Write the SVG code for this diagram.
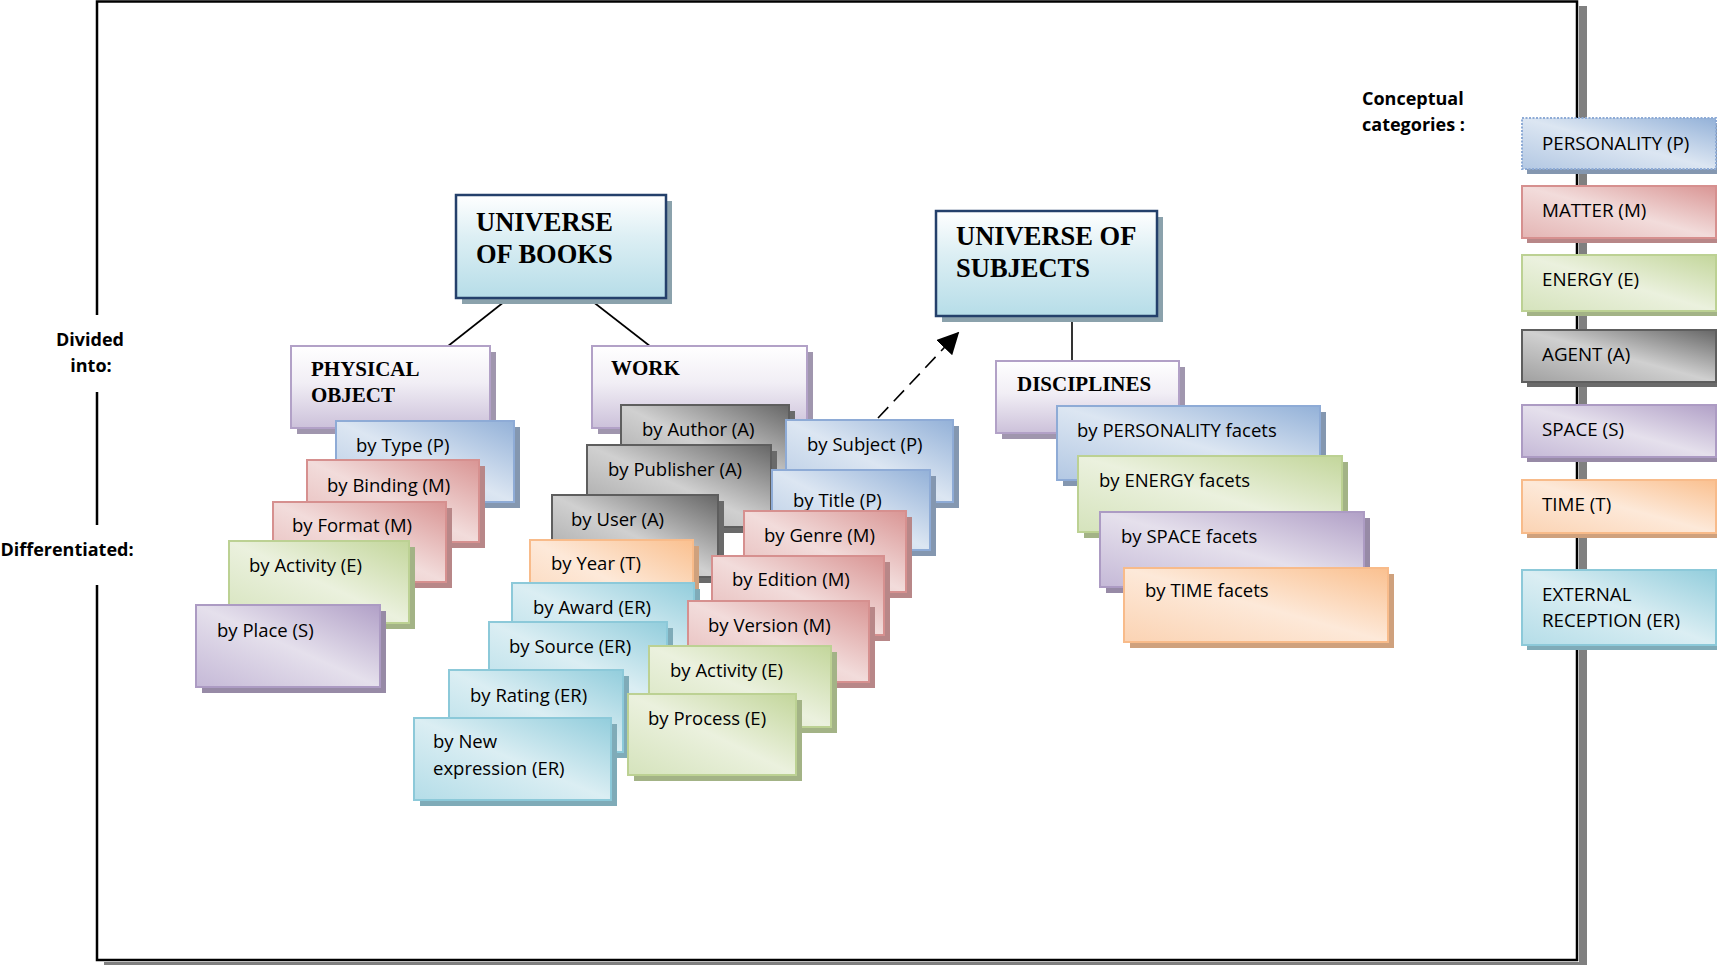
<svg xmlns="http://www.w3.org/2000/svg" width="1717" height="965" viewBox="0 0 1717 965">
<defs>
<linearGradient id="gP" x1="1" y1="0" x2="0" y2="1"><stop offset="0" stop-color="#93B1D8"/><stop offset="0.5" stop-color="#DCE6F2"/><stop offset="1" stop-color="#B3C8E3"/></linearGradient>
<linearGradient id="gM" x1="1" y1="0" x2="0" y2="1"><stop offset="0" stop-color="#D99594"/><stop offset="0.5" stop-color="#F2DCDB"/><stop offset="1" stop-color="#E4B5B4"/></linearGradient>
<linearGradient id="gE" x1="1" y1="0" x2="0" y2="1"><stop offset="0" stop-color="#C3D69B"/><stop offset="0.5" stop-color="#EBF1DE"/><stop offset="1" stop-color="#D5E3BC"/></linearGradient>
<linearGradient id="gA" x1="1" y1="0" x2="0" y2="1"><stop offset="0" stop-color="#666666"/><stop offset="0.5" stop-color="#D0D0D0"/><stop offset="1" stop-color="#A0A0A0"/></linearGradient>
<linearGradient id="gS" x1="1" y1="0" x2="0" y2="1"><stop offset="0" stop-color="#B1A0C7"/><stop offset="0.5" stop-color="#E5E0EC"/><stop offset="1" stop-color="#C5B9D7"/></linearGradient>
<linearGradient id="gT" x1="1" y1="0" x2="0" y2="1"><stop offset="0" stop-color="#FAC08F"/><stop offset="0.5" stop-color="#FDE9D9"/><stop offset="1" stop-color="#FBD3B3"/></linearGradient>
<linearGradient id="gR" x1="1" y1="0" x2="0" y2="1"><stop offset="0" stop-color="#92CDDC"/><stop offset="0.5" stop-color="#DBEEF3"/><stop offset="1" stop-color="#B4DDE8"/></linearGradient>
<linearGradient id="gH" x1="0" y1="0" x2="0" y2="1"><stop offset="0" stop-color="#FFFFFF"/><stop offset="0.45" stop-color="#F1EEF5"/><stop offset="1" stop-color="#CCC1DA"/></linearGradient>
<linearGradient id="gU" x1="0" y1="0" x2="0" y2="1"><stop offset="0" stop-color="#FFFFFF"/><stop offset="0.4" stop-color="#DDEFF4"/><stop offset="1" stop-color="#B6DDE8"/></linearGradient>
<marker id="arrow" viewBox="0 0 12 12" refX="11" refY="6" markerWidth="22" markerHeight="22" markerUnits="userSpaceOnUse" orient="auto"><path d="M0,0 L12,6 L0,12 z" fill="#000"/></marker>
</defs>
<style>
text{font-family:"Open Sans","Noto Sans","Liberation Sans",sans-serif;font-size:18.5px;fill:#000}
.hd{font-family:"Liberation Serif","Times New Roman",serif;font-weight:bold;font-size:21px}
.uh{font-family:"Liberation Serif","Times New Roman",serif;font-weight:bold;font-size:26.5px}
.lb{font-weight:bold;font-size:18px}
.cc{font-size:18.8px}
rect{stroke-width:2}
.P{fill:url(#gP);stroke:#8EABD6}
.M{fill:url(#gM);stroke:#D6908F}
.E{fill:url(#gE);stroke:#BCD193}
.A{fill:url(#gA);stroke:#5E5E5E}
.S{fill:url(#gS);stroke:#AC9BC3}
.T{fill:url(#gT);stroke:#F8BB8A}
.R{fill:url(#gR);stroke:#8CC9D9}
.H{fill:url(#gH);stroke:#B2A1C7}
.U{fill:url(#gU);stroke:#24406B;stroke-width:2.5}
.sP{fill:#8497B0;stroke:none}
.sM{fill:#B88788;stroke:none}
.sE{fill:#A3B386;stroke:none}
.sA{fill:#6A6A6A;stroke:none}
.sS{fill:#978AA6;stroke:none}
.sT{fill:#CFA17D;stroke:none}
.sR{fill:#7FABB8;stroke:none}
.sH{fill:#A096AE;stroke:none}
.sU{fill:#8BA2AC;stroke:none}
.con line{stroke:#000;stroke-width:1.6}
</style>
<rect width="1717" height="965" fill="#fff" style="stroke:none"/>

<g id="frame">
<rect x="1579" y="6" width="8" height="962" fill="#808080" style="stroke:none"/>
<rect x="104" y="962" width="1483" height="6" fill="#808080" style="stroke:none"/>
<path d="M97,315 V1.5 H1577 V960 H97 V585 M97,525 V392" fill="none" stroke="#000" stroke-width="2.5"/>
</g>

<g id="labels">
<text class="lb" x="90" y="346" text-anchor="middle">Divided</text>
<text class="lb" x="91" y="372" text-anchor="middle">into:</text>
<text class="lb" x="67" y="556" text-anchor="middle">Differentiated:</text>
<text class="lb" x="1362" y="105">Conceptual</text>
<text class="lb" x="1362" y="131">categories :</text>
</g>

<g id="connectors" class="con">
<line x1="509" y1="298" x2="443" y2="350"/>
<line x1="592" y1="301" x2="655" y2="350"/>
<line x1="1072" y1="316" x2="1072" y2="363"/>
<line x1="878" y1="418" x2="958" y2="333" stroke-width="3.2" stroke-dasharray="15 8" marker-end="url(#arrow)"/>
</g>

<g id="universe-books"><rect class="sU" x="462" y="201" width="210" height="103"/><rect class="U" x="456" y="195" width="210" height="103"/><text class="uh" x="476" y="231">UNIVERSE</text><text class="uh" x="476" y="263">OF BOOKS</text></g>
<g id="universe-subjects"><rect class="sU" x="942" y="217" width="221" height="105"/><rect class="U" x="936" y="211" width="221" height="105"/><text class="uh" x="956" y="245">UNIVERSE OF</text><text class="uh" x="956" y="277">SUBJECTS</text></g>

<g id="physical-object"><rect class="sH" x="297" y="352" width="199" height="82"/><rect class="H" x="291" y="346" width="199" height="82"/><text class="hd" x="311" y="376">PHYSICAL</text><text class="hd" x="311" y="402">OBJECT</text></g>
<g id="po-type"><rect class="sP" x="342" y="427" width="178" height="81"/><rect class="P" x="336" y="421" width="178" height="81"/><text x="356" y="452">by Type (P)</text></g>
<g id="po-binding"><rect class="sM" x="313" y="466" width="172" height="82"/><rect class="M" x="307" y="460" width="172" height="82"/><text x="327" y="492">by Binding (M)</text></g>
<g id="po-format"><rect class="sM" x="279" y="508" width="173" height="80"/><rect class="M" x="273" y="502" width="173" height="80"/><text x="292" y="532">by Format (M)</text></g>
<g id="po-activity"><rect class="sE" x="235" y="547" width="180" height="82"/><rect class="E" x="229" y="541" width="180" height="82"/><text x="249" y="572">by Activity (E)</text></g>
<g id="po-place"><rect class="sS" x="202" y="611" width="184" height="82"/><rect class="S" x="196" y="605" width="184" height="82"/><text x="217" y="637">by Place (S)</text></g>

<g id="work"><rect class="sH" x="598" y="352" width="215" height="82"/><rect class="H" x="592" y="346" width="215" height="82"/><text class="hd" x="611" y="375">WORK</text></g>
<g id="w-author"><rect class="sA" x="627" y="411" width="168" height="82"/><rect class="A" x="621" y="405" width="168" height="82"/><text x="642" y="436">by Author (A)</text></g>
<g id="w-publisher"><rect class="sA" x="593" y="451" width="184" height="82"/><rect class="A" x="587" y="445" width="184" height="82"/><text x="608" y="476">by Publisher (A)</text></g>
<g id="w-user"><rect class="sA" x="558" y="501" width="166" height="82"/><rect class="A" x="552" y="495" width="166" height="82"/><text x="571" y="526">by User (A)</text></g>
<g id="w-year"><rect class="sT" x="536" y="546" width="163" height="82"/><rect class="T" x="530" y="540" width="163" height="82"/><text x="551" y="570">by Year (T)</text></g>
<g id="w-award"><rect class="sR" x="518" y="589" width="182" height="82"/><rect class="R" x="512" y="583" width="182" height="82"/><text x="533" y="614">by Award (ER)</text></g>
<g id="w-source"><rect class="sR" x="495" y="628" width="178" height="82"/><rect class="R" x="489" y="622" width="178" height="82"/><text x="509" y="653">by Source (ER)</text></g>
<g id="w-rating"><rect class="sR" x="455" y="676" width="174" height="82"/><rect class="R" x="449" y="670" width="174" height="82"/><text x="470" y="702">by Rating (ER)</text></g>
<g id="w-newexpr"><rect class="sR" x="420" y="724" width="197" height="82"/><rect class="R" x="414" y="718" width="197" height="82"/><text x="433" y="748">by New</text><text x="433" y="775">expression (ER)</text></g>
<g id="w-subject"><rect class="sP" x="792" y="426" width="167" height="82"/><rect class="P" x="786" y="420" width="167" height="82"/><text x="807" y="451">by Subject (P)</text></g>
<g id="w-title"><rect class="sP" x="778" y="476" width="158" height="80"/><rect class="P" x="772" y="470" width="158" height="80"/><text x="793" y="507">by Title (P)</text></g>
<g id="w-genre"><rect class="sM" x="750" y="517" width="162" height="81"/><rect class="M" x="744" y="511" width="162" height="81"/><text x="764" y="542">by Genre (M)</text></g>
<g id="w-edition"><rect class="sM" x="718" y="562" width="172" height="79"/><rect class="M" x="712" y="556" width="172" height="79"/><text x="732" y="586">by Edition (M)</text></g>
<g id="w-version"><rect class="sM" x="694" y="607" width="181" height="81"/><rect class="M" x="688" y="601" width="181" height="81"/><text x="708" y="632">by Version (M)</text></g>
<g id="w-activity"><rect class="sE" x="655" y="652" width="182" height="81"/><rect class="E" x="649" y="646" width="182" height="81"/><text x="670" y="677">by Activity (E)</text></g>
<g id="w-process"><rect class="sE" x="634" y="700" width="168" height="81"/><rect class="E" x="628" y="694" width="168" height="81"/><text x="648" y="725">by Process (E)</text></g>

<g id="disciplines"><rect class="sH" x="1002" y="367" width="183" height="72"/><rect class="H" x="996" y="361" width="183" height="72"/><text class="hd" x="1017" y="391">DISCIPLINES</text></g>
<g id="d-personality"><rect class="sP" x="1063" y="412" width="263" height="74"/><rect class="P" x="1057" y="406" width="263" height="74"/><text x="1077" y="437">by PERSONALITY facets</text></g>
<g id="d-energy"><rect class="sE" x="1084" y="462" width="264" height="76"/><rect class="E" x="1078" y="456" width="264" height="76"/><text x="1099" y="487">by ENERGY facets</text></g>
<g id="d-space"><rect class="sS" x="1106" y="518" width="264" height="75"/><rect class="S" x="1100" y="512" width="264" height="75"/><text x="1121" y="543">by SPACE facets</text></g>
<g id="d-time"><rect class="sT" x="1130" y="574" width="264" height="74"/><rect class="T" x="1124" y="568" width="264" height="74"/><text x="1145" y="597">by TIME facets</text></g>

<g id="c-personality"><rect class="sP" x="1527" y="123" width="194" height="51"/><rect class="P" x="1522" y="118" width="194" height="51" stroke-dasharray="2 1.5" stroke="#7FA0CF"/><text class="cc" x="1542" y="150">PERSONALITY (P)</text></g>
<g id="c-matter"><rect class="sM" x="1527" y="191" width="194" height="52"/><rect class="M" x="1522" y="186" width="194" height="52"/><text class="cc" x="1542" y="217">MATTER (M)</text></g>
<g id="c-energy"><rect class="sE" x="1527" y="260" width="194" height="56"/><rect class="E" x="1522" y="255" width="194" height="56"/><text class="cc" x="1542" y="286">ENERGY (E)</text></g>
<g id="c-agent"><rect class="sA" x="1527" y="335" width="194" height="52"/><rect class="A" x="1522" y="330" width="194" height="52"/><text class="cc" x="1542" y="361">AGENT (A)</text></g>
<g id="c-space"><rect class="sS" x="1527" y="410" width="194" height="52"/><rect class="S" x="1522" y="405" width="194" height="52"/><text class="cc" x="1542" y="436">SPACE (S)</text></g>
<g id="c-time"><rect class="sT" x="1527" y="485" width="194" height="53"/><rect class="T" x="1522" y="480" width="194" height="53"/><text class="cc" x="1542" y="511">TIME (T)</text></g>
<g id="c-external"><rect class="sR" x="1527" y="575" width="194" height="75"/><rect class="R" x="1522" y="570" width="194" height="75"/><text class="cc" x="1542" y="601">EXTERNAL</text><text class="cc" x="1542" y="627">RECEPTION (ER)</text></g>
</svg>
